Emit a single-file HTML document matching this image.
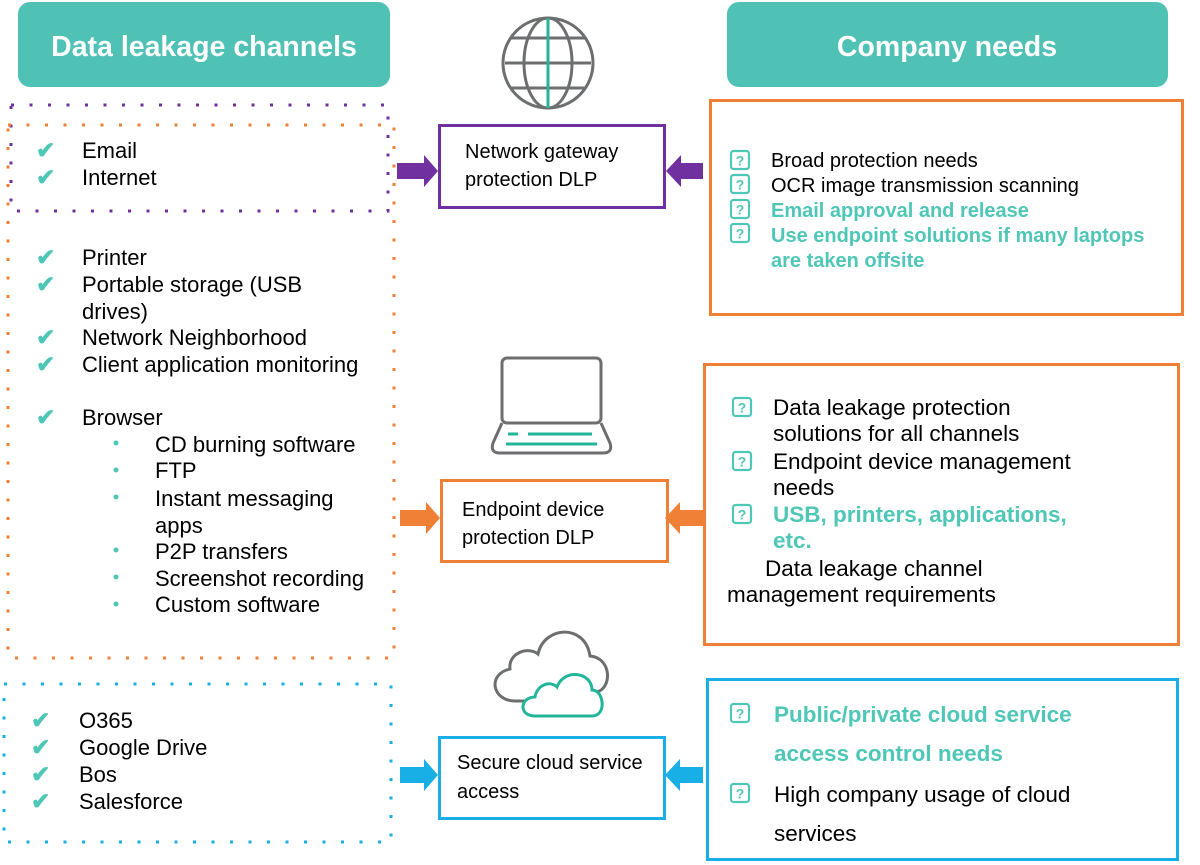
<!DOCTYPE html>
<html><head><meta charset="utf-8"><style>
html,body{margin:0;padding:0;background:#fff;}
svg{display:block;}
text{font-family:"Liberation Sans",Arial,sans-serif;}
</style></head><body>
<svg width="1200" height="865" viewBox="0 0 1200 865" xmlns="http://www.w3.org/2000/svg">
<defs>
<g id="q"><rect x="0" y="0" width="18" height="18" rx="2.5" fill="none" stroke="#4fc7b6" stroke-width="2.2"/><text x="9" y="14.5" font-size="14" font-weight="bold" fill="#4fc7b6" text-anchor="middle">?</text></g>
</defs>
<!-- headers -->
<rect x="18" y="2" width="372" height="85" rx="12" fill="#4fc1b5"/>
<text x="204" y="56" font-size="28.5" font-weight="bold" fill="#fff" text-anchor="middle">Data leakage channels</text>
<rect x="727" y="2" width="441" height="85" rx="12" fill="#4fc1b5"/>
<text x="947" y="56" font-size="28.5" font-weight="bold" fill="#fff" text-anchor="middle">Company needs</text>

<!-- dotted boxes -->
<rect x="11" y="105" width="377" height="106" fill="none" stroke="#7030a0" stroke-width="3" stroke-dasharray="3 15.5"/>
<rect x="8" y="125" width="386" height="533" fill="none" stroke="#ef8035" stroke-width="3" stroke-dasharray="3 15.5"/>
<rect x="4" y="684" width="387" height="158" fill="none" stroke="#18aee6" stroke-width="3" stroke-dasharray="3 15.5"/>

<!-- left text -->
<g font-size="22" fill="#000">
<g fill="#4fc7b6" font-size="23" font-weight="bold">
<text x="36" y="158">✔</text><text x="36" y="185">✔</text>
<text x="36" y="265">✔</text><text x="36" y="292">✔</text><text x="36" y="345">✔</text><text x="36" y="372">✔</text><text x="36" y="425">✔</text>
<text x="31" y="728">✔</text><text x="31" y="755">✔</text><text x="31" y="782">✔</text><text x="31" y="809">✔</text>
</g>
<text x="82" y="158">Email</text>
<text x="82" y="185">Internet</text>
<text x="82" y="265">Printer</text>
<text x="82" y="292">Portable storage (USB</text>
<text x="82" y="319">drives)</text>
<text x="82" y="345">Network Neighborhood</text>
<text x="82" y="372">Client application monitoring</text>
<text x="82" y="425">Browser</text>
<text x="155" y="452">CD burning software</text>
<text x="155" y="478">FTP</text>
<text x="155" y="506">Instant messaging</text>
<text x="155" y="533">apps</text>
<text x="155" y="559">P2P  transfers</text>
<text x="155" y="586">Screenshot recording</text>
<text x="155" y="612">Custom software</text>
<g fill="#4fc7b6"><circle cx="116" cy="443" r="2.5"/><circle cx="116" cy="470" r="2.5"/><circle cx="116" cy="497" r="2.5"/><circle cx="116" cy="550" r="2.5"/><circle cx="116" cy="577" r="2.5"/><circle cx="116" cy="604" r="2.5"/></g>
<text x="79" y="728">O365</text>
<text x="79" y="755">Google Drive</text>
<text x="79" y="782">Bos</text>
<text x="79" y="809">Salesforce</text>
</g>

<!-- globe -->
<g fill="none" stroke="#6d6e70" stroke-width="3">
<circle cx="548" cy="63" r="45"/>
<ellipse cx="548" cy="63" rx="24" ry="45"/>
<line x1="505" y1="63" x2="591" y2="63"/>
<line x1="510" y1="38" x2="586" y2="38"/>
<line x1="510" y1="88" x2="586" y2="88"/>
</g>
<line x1="548" y1="18" x2="548" y2="108" stroke="#22b59a" stroke-width="3"/>

<!-- laptop -->
<g fill="none" stroke="#6d6e70" stroke-width="3">
<rect x="502" y="358" width="99" height="65" rx="5"/>
<path d="M502 423 L493 443 Q490 453 500 453 L603 453 Q613 453 610 443 L601 423"/>
</g>
<g stroke="#22b59a" stroke-width="3"><line x1="508" y1="434" x2="518" y2="434"/><line x1="528" y1="434" x2="592" y2="434"/><line x1="506" y1="444" x2="597" y2="444"/></g>

<!-- cloud -->
<path d="M515 701 C492 701 487 674 510 669 C508 653 528 646 538 654 C544 626 585 623 590 656 C612 658 612 688 597 692" fill="none" stroke="#6d6e70" stroke-width="3"/>
<line x1="515" y1="701" x2="530" y2="701" stroke="#6d6e70" stroke-width="3"/>
<path d="M535 716 C518 716 520 697 535 697 C537 685 550 680 557 687 C564 668 592 672 592 690 C604 690 607 716 592 716 Z" fill="#fff" stroke="#22b59a" stroke-width="3"/>

<!-- center boxes -->
<rect x="439.5" y="125.5" width="225" height="82" fill="#fff" stroke="#7030a0" stroke-width="3"/>
<text x="465" y="158" font-size="20">Network gateway</text>
<text x="465" y="186" font-size="20">protection DLP</text>
<rect x="441.5" y="480.5" width="226" height="81" fill="#fff" stroke="#ef8035" stroke-width="3"/>
<text x="462" y="516" font-size="20">Endpoint device</text>
<text x="462" y="544" font-size="20">protection DLP</text>
<rect x="439.5" y="737.5" width="225" height="81" fill="#fff" stroke="#18aee6" stroke-width="3"/>
<text x="457" y="769" font-size="20">Secure cloud service</text>
<text x="457" y="798" font-size="20">access</text>

<!-- arrows -->
<g fill="#7030a0">
<polygon points="397,163 424,163 424,155 438,171 424,187 424,179 397,179"/>
<polygon points="703,163 681,163 681,155 666,171 681,187 681,179 703,179"/>
</g>
<g fill="#ef8035">
<polygon points="400,510 426,510 426,502 440,518 426,534 426,526 400,526"/>
<polygon points="703,510 680,510 680,502 665,518 680,534 680,526 703,526"/>
</g>
<g fill="#18aee6">
<polygon points="400,767 424,767 424,759 438,775 424,791 424,783 400,783"/>
<polygon points="703,767 680,767 680,759 665,775 680,791 680,783 703,783"/>
</g>

<!-- right boxes -->
<rect x="710.5" y="100.5" width="472" height="214" fill="#fff" stroke="#ef8035" stroke-width="3"/>
<use href="#q" x="731" y="151"/><use href="#q" x="731" y="175"/><use href="#q" x="731" y="200"/><use href="#q" x="731" y="224"/>
<g font-size="20">
<text x="771" y="167">Broad protection needs</text>
<text x="771" y="192">OCR image transmission scanning</text>
<text x="771" y="217" fill="#4fc7b6" font-weight="bold">Email approval and release</text>
<text x="771" y="242" fill="#4fc7b6" font-weight="bold">Use endpoint solutions if many laptops</text>
<text x="771" y="267" fill="#4fc7b6" font-weight="bold">are taken offsite</text>
</g>

<rect x="704.5" y="364.5" width="474" height="280" fill="#fff" stroke="#ef8035" stroke-width="3"/>
<use href="#q" x="733" y="398"/><use href="#q" x="733" y="452"/><use href="#q" x="733" y="505"/>
<g font-size="22.5">
<text x="773" y="415">Data leakage protection</text>
<text x="773" y="441">solutions for all channels</text>
<text x="773" y="469">Endpoint device management</text>
<text x="773" y="495">needs</text>
<text x="773" y="522" fill="#4fc7b6" font-weight="bold">USB, printers, applications,</text>
<text x="773" y="548" fill="#4fc7b6" font-weight="bold">etc.</text>
<text x="765" y="576">Data leakage channel</text>
<text x="727" y="602">management requirements</text>
</g>

<rect x="707.5" y="679.5" width="470" height="180" fill="#fff" stroke="#18aee6" stroke-width="3"/>
<use href="#q" x="731" y="704"/><use href="#q" x="731" y="784"/>
<g font-size="22.5">
<text x="774" y="722" fill="#4fc7b6" font-weight="bold">Public/private cloud service</text>
<text x="774" y="761" fill="#4fc7b6" font-weight="bold">access control needs</text>
<text x="774" y="802">High company usage of cloud</text>
<text x="774" y="841">services</text>
</g>
</svg>
</body></html>
